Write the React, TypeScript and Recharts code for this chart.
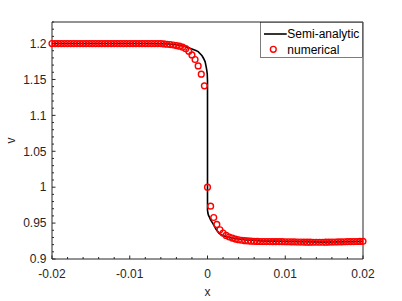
import { ComposedChart, Legend, Line, Scatter, XAxis, YAxis } from 'recharts';

// numerical solution (red circles)
const numX = [
  -0.02, -0.0196, -0.0192, -0.0188, -0.0184, -0.018, -0.0176, -0.0172, -0.0168, -0.0164,
  -0.016, -0.0156, -0.0152, -0.0148, -0.0144, -0.014, -0.0136, -0.0132, -0.0128, -0.0124,
  -0.012, -0.0116, -0.0112, -0.0108, -0.0104, -0.01, -0.0096, -0.0092, -0.0088, -0.0084,
  -0.008, -0.0076, -0.0072, -0.0068, -0.0064, -0.006, -0.0056, -0.0052, -0.0048, -0.0044,
  -0.004, -0.0036, -0.0032, -0.0028, -0.0024, -0.002, -0.0016, -0.0012, -0.0008, -0.0004,
  0, 0.0004, 0.0008, 0.0012, 0.0016, 0.002, 0.0024, 0.0028, 0.0032, 0.0036,
  0.004, 0.0044, 0.0048, 0.0052, 0.0056, 0.006, 0.0064, 0.0068, 0.0072, 0.0076,
  0.008, 0.0084, 0.0088, 0.0092, 0.0096, 0.01, 0.0104, 0.0108, 0.0112, 0.0116,
  0.012, 0.0124, 0.0128, 0.0132, 0.0136, 0.014, 0.0144, 0.0148, 0.0152, 0.0156,
  0.016, 0.0164, 0.0168, 0.0172, 0.0176, 0.018, 0.0184, 0.0188, 0.0192, 0.0196, 0.02,
];
const numV = [
  1.2, 1.2, 1.2, 1.2, 1.2, 1.2, 1.2, 1.2, 1.2, 1.2,
  1.2, 1.2, 1.2, 1.2, 1.2, 1.2, 1.2, 1.2, 1.2, 1.2,
  1.2, 1.2, 1.2, 1.2, 1.2, 1.2, 1.2, 1.2, 1.2, 1.2,
  1.2, 1.2, 1.2, 1.2, 1.2, 1.2, 1.1995, 1.199, 1.1986, 1.198,
  1.1972, 1.1963, 1.1949, 1.1928, 1.1893, 1.1842, 1.1778, 1.1689, 1.1574, 1.1411,
  1.0, 0.9736, 0.9578, 0.9481, 0.9407, 0.9361, 0.9328, 0.9306, 0.9292, 0.9278,
  0.9268, 0.9261, 0.9255, 0.9251, 0.9248, 0.9246, 0.9245, 0.9244, 0.9244, 0.9243,
  0.9243, 0.9242, 0.9242, 0.9241, 0.9241, 0.924, 0.924, 0.9239, 0.9238, 0.9237,
  0.9236, 0.9235, 0.9234, 0.9234, 0.9233, 0.9233, 0.9233, 0.9233, 0.9234, 0.9235,
  0.9236, 0.9237, 0.9238, 0.9239, 0.924, 0.9241, 0.9242, 0.9243, 0.9244, 0.9245, 0.9246,
];

// semi-analytic solution (black line)
const lineX = [
  -0.02, -0.008, -0.006, -0.005, -0.004, -0.003, -0.0025, -0.002, -0.0015, -0.0012,
  -0.001, -0.0007, -0.0005, -0.0003, -0.00017, -0.00008, -0.00003, 0, 0, 0.00005,
  0.00012, 0.00026, 0.0004, 0.00068, 0.0009, 0.0011, 0.0015, 0.002, 0.0024, 0.003,
  0.0037, 0.005, 0.007, 0.01, 0.015, 0.02,
];
const lineV = [
  1.2, 1.2, 1.1998, 1.1993, 1.1983, 1.1962, 1.1945, 1.1925, 1.1903, 1.1888,
  1.1865, 1.183, 1.1792, 1.1745, 1.1675, 1.162, 1.157, 1.148, 0.968, 0.964,
  0.961, 0.958, 0.9545, 0.9497, 0.9455, 0.9414, 0.9358, 0.9325, 0.931, 0.9295,
  0.9283, 0.9265, 0.9252, 0.9245, 0.9235, 0.9245,
];

const xTicks = [
  -0.02, -0.018, -0.016, -0.014, -0.012, -0.01, -0.008, -0.006, -0.004, -0.002, 0,
  0.002, 0.004, 0.006, 0.008, 0.01, 0.012, 0.014, 0.016, 0.018, 0.02,
];
const xLabels = [-0.02, -0.01, 0, 0.01, 0.02];
const yTicks = [
  0.9, 0.91, 0.92, 0.93, 0.94, 0.95, 0.96, 0.97, 0.98, 0.99, 1, 1.01, 1.02, 1.03, 1.04, 1.05,
  1.06, 1.07, 1.08, 1.09, 1.1, 1.11, 1.12, 1.13, 1.14, 1.15, 1.16, 1.17, 1.18, 1.19, 1.2,
  1.21, 1.22, 1.23,
];
const yLabels = [0.9, 0.95, 1, 1.05, 1.1, 1.15, 1.2];

const numData = numX.map((x, i) => ({ x, v: numV[i] }));
const lineData = lineX.map((x, i) => ({ x, v: lineV[i] }));

const AXIS = '#262626';
const FONT = '"Liberation Sans", Arial, sans-serif';
const isMajor = (list: number[], v: number) => list.some((l) => Math.abs(l - v) < 1e-9);

const BottomTick = ({ x, y, payload }: any) => {
  const major = isMajor(xLabels, payload.value);
  return (
    <g>
      <line x1={x} x2={x} y1={y} y2={y - (major ? 3.5 : 2)} stroke={AXIS} />
      {major && (
        <text x={x} y={y + 18.5} textAnchor='middle' fontSize={12} fontFamily={FONT} fill={AXIS}>
          {String(payload.value)}
        </text>
      )}
    </g>
  );
};

const TopTick = ({ x, y, payload }: any) => {
  const major = isMajor(xLabels, payload.value);
  return <line x1={x} x2={x} y1={y} y2={y + (major ? 3.5 : 2)} stroke={AXIS} />;
};

const LeftTick = ({ x, y, payload }: any) => {
  const major = isMajor(yLabels, payload.value);
  return (
    <g>
      <line x1={x} x2={x + (major ? 3.5 : 2)} y1={y} y2={y} stroke={AXIS} />
      {major && (
        <text x={x - 5.5} y={y + 4.3} textAnchor='end' fontSize={12} fontFamily={FONT} fill={AXIS}>
          {String(payload.value)}
        </text>
      )}
    </g>
  );
};

const RightTick = ({ x, y, payload }: any) => {
  const major = isMajor(yLabels, payload.value);
  return <line x1={x} x2={x - (major ? 3.5 : 2)} y1={y} y2={y} stroke={AXIS} />;
};

const XLabel = ({ viewBox }: any) => (
  <text
    x={viewBox.x + viewBox.width / 2}
    y={viewBox.y + 37}
    textAnchor='middle'
    fontSize={12}
    fontFamily={FONT}
    fill={AXIS}
  >
    x
  </text>
);

const YLabel = ({ viewBox }: any) => {
  const cx = viewBox.x + viewBox.width - 37.2;
  const cy = viewBox.y + viewBox.height / 2;
  return (
    <text
      x={cx}
      y={cy}
      transform={`rotate(-90 ${cx} ${cy})`}
      textAnchor='middle'
      fontSize={12}
      fontFamily={FONT}
      fill={AXIS}
    >
      v
    </text>
  );
};

const LegendBox = () => (
  <svg width={103} height={36} style={{ display: 'block' }}>
    <rect x={0.5} y={0.5} width={102} height={35} fill='#fff' stroke={AXIS} strokeWidth={0.6} />
    <line x1={4} x2={26.7} y1={12} y2={12} stroke='#000' strokeWidth={1.6} />
    <text x={27.3} y={16} fontSize={12} fontFamily={FONT} fill='#000'>
      Semi-analytic
    </text>
    <circle cx={13.3} cy={27.3} r={2.9} fill='none' stroke='#ff0000' strokeWidth={1.4} />
    <text x={27.3} y={31.6} fontSize={12} fontFamily={FONT} fill='#000'>
      numerical
    </text>
  </svg>
);

export default function App() {
  return (
    <div style={{ position: 'absolute', left: 0, top: 0, width: 402, height: 301, background: '#fff' }}>
      <ComposedChart width={402} height={301} margin={{ top: 21, right: 38, bottom: 41, left: 51 }}>
        <XAxis
          dataKey='x'
          type='number'
          domain={[-0.02, 0.02]}
          ticks={xTicks}
          interval={0}
          height={1}
          tickSize={0}
          tickMargin={0}
          tickLine={false}
          tick={<BottomTick />}
          axisLine={{ stroke: AXIS }}
          label={XLabel}
        />
        <XAxis
          xAxisId='top'
          orientation='top'
          dataKey='x'
          type='number'
          domain={[-0.02, 0.02]}
          ticks={xTicks}
          interval={0}
          height={1}
          tickSize={0}
          tickMargin={0}
          tickLine={false}
          tick={<TopTick />}
          axisLine={{ stroke: AXIS }}
        />
        <YAxis
          type='number'
          domain={[0.9, 1.23]}
          ticks={yTicks}
          interval={0}
          width={1}
          tickSize={0}
          tickMargin={0}
          tickLine={false}
          tick={<LeftTick />}
          axisLine={{ stroke: AXIS }}
          label={YLabel}
        />
        <YAxis
          yAxisId='right'
          orientation='right'
          type='number'
          domain={[0.9, 1.23]}
          ticks={yTicks}
          interval={0}
          width={1}
          tickSize={0}
          tickMargin={0}
          tickLine={false}
          tick={<RightTick />}
          axisLine={{ stroke: AXIS }}
        />
        <Line
          data={lineData}
          dataKey='v'
          type='linear'
          stroke='#000'
          strokeWidth={1.6}
          dot={false}
          isAnimationActive={false}
        />
        <Scatter
          data={numData}
          dataKey='v'
          isAnimationActive={false}
          shape={(p: any) => (
            <circle cx={p.cx} cy={p.cy} r={2.9} fill='none' stroke='#ff0000' strokeWidth={1.4} />
          )}
        />
        <Legend
          layout='horizontal'
          verticalAlign='middle'
          align='center'
          wrapperStyle={{ left: 260, top: 22, width: 103, height: 36 }}
          content={() => <LegendBox />}
        />
      </ComposedChart>
    </div>
  );
}
